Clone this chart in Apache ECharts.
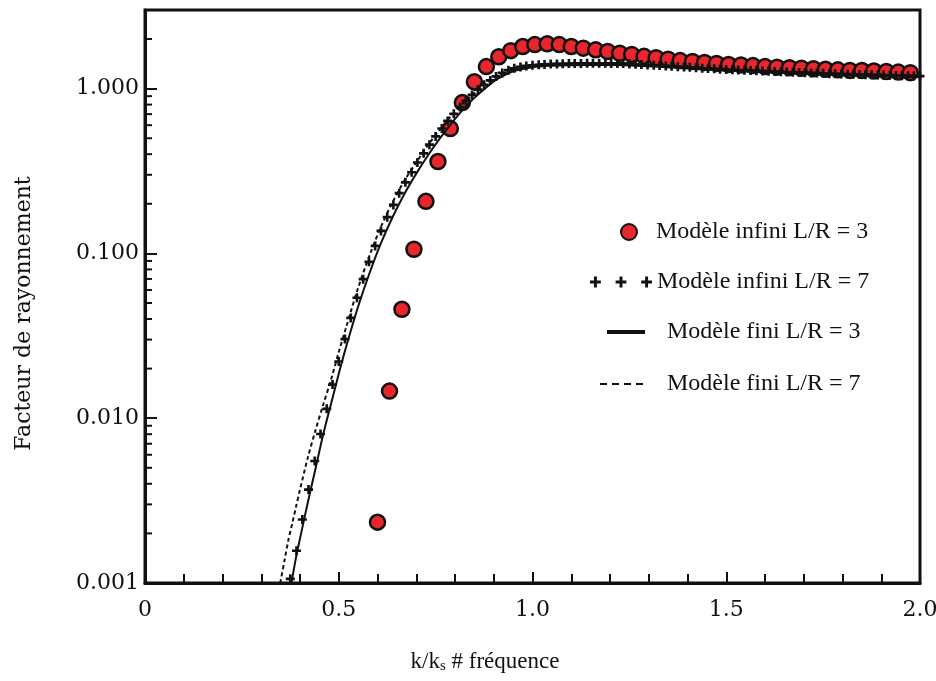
<!DOCTYPE html>
<html><head><meta charset="utf-8">
<script src="https://cdn.jsdelivr.net/npm/echarts@6/dist/echarts.min.js"></script>
<style>html,body{margin:0;padding:0;background:#fff}#c{width:936px;height:681px}</style>
</head><body><div id="c"></div>
<script>
const xTickLabels = ['0', '0.5', '1.0', '1.5', '2.0'];
const yTickLabels = ['0.001', '0.010', '0.100', '1.000'];
const yMinorTicks = [0.002,0.003,0.004,0.005,0.006,0.007,0.008,0.009,
  0.02,0.03,0.04,0.05,0.06,0.07,0.08,0.09,
  0.2,0.3,0.4,0.5,0.6,0.7,0.8,0.9, 2];
const seriesNames = ['Modèle infini L/R = 3', 'Modèle infini L/R = 7', 'Modèle fini L/R = 3', 'Modèle fini L/R = 7'];
const xTitle = 'k/k';
const xTitleSub = 's';
const xTitleRest = ' # fréquence';
const yTitle = 'Facteur de rayonnement';

// Modèle infini L/R = 3 (red circles)
const kInfini3 = [0.600,0.631,0.663,0.694,0.725,0.756,0.788,0.819,0.850,0.881,0.913,0.944,0.975,1.006,1.038,
  1.069,1.100,1.131,1.163,1.194,1.225,1.256,1.288,1.319,1.350,1.381,1.413,1.444,1.475,1.506,
  1.538,1.569,1.600,1.631,1.663,1.694,1.725,1.756,1.788,1.819,1.850,1.881,1.913,1.944,1.975];
const infini3 = [0.00234,0.0146,0.0458,0.106,0.207,0.361,0.572,0.823,1.10,1.36,1.56,1.70,1.80,1.85,1.87,
  1.85,1.80,1.76,1.72,1.68,1.64,1.61,1.57,1.54,1.51,1.48,1.46,1.44,1.42,1.40,
  1.39,1.38,1.36,1.35,1.34,1.33,1.32,1.31,1.30,1.29,1.29,1.28,1.27,1.26,1.25];

// Modèle infini L/R = 7 (crosses)
const kInfini7 = [0.375,0.391,0.406,0.422,0.438,0.453,0.469,0.484,
  0.500,0.516,0.531,0.547,0.563,0.578,0.594,0.609,
  0.625,0.641,0.656,0.672,0.688,0.703,0.719,0.734,
  0.750,0.766,0.781,0.797,0.813,0.828,0.844,0.859,
  0.875,0.891,0.906,0.922,0.938,0.953,0.969,0.984,
  1.000,1.016,1.031,1.047,1.063,1.078,1.094,1.109,
  1.125,1.141,1.156,1.172,1.188,1.203,1.219,1.234,
  1.250,1.266,1.281,1.297,1.313,1.328,1.344,1.359,
  1.375,1.391,1.406,1.422,1.438,1.453,1.469,1.484,
  1.500,1.516,1.531,1.547,1.563,1.578,1.594,1.609,
  1.625,1.641,1.656,1.672,1.688,1.703,1.719,1.734,
  1.750,1.766,1.781,1.797,1.813,1.828,1.844,1.859,
  1.875,1.891,1.906,1.922,1.938,1.953,1.969,1.984,
  2.000];
const infini7 = [0.00106,0.00157,0.00243,0.00369,0.00550,0.00802,0.0114,0.0160,
  0.0221,0.0302,0.0406,0.0538,0.0698,0.0889,0.111,0.137,
  0.166,0.197,0.232,0.270,0.311,0.356,0.405,0.457,
  0.513,0.573,0.637,0.703,0.773,0.843,0.916,0.986,
  1.054,1.122,1.186,1.245,1.294,1.330,1.355,1.374,
  1.387,1.396,1.403,1.409,1.413,1.416,1.419,1.422,
  1.422,1.426,1.426,1.426,1.426,1.422,1.422,1.419,
  1.413,1.406,1.400,1.393,1.387,1.380,1.374,1.368,
  1.358,1.352,1.346,1.340,1.330,1.324,1.318,1.312,
  1.306,1.300,1.297,1.291,1.288,1.282,1.279,1.274,
  1.271,1.265,1.262,1.256,1.253,1.250,1.245,1.242,
  1.239,1.233,1.230,1.227,1.225,1.222,1.219,1.216,
  1.213,1.211,1.208,1.205,1.202,1.199,1.197,1.194,
  1.191];

// Modèle fini L/R = 3 (solid line)
const kFini3 = [0.378,0.39,0.40,0.42,0.44,0.46,0.48,0.50,0.52,0.55,0.58,0.61,0.64,0.67,0.70,0.73,0.76,0.79,0.82,0.85,
  0.88,0.91,0.95,1.00,1.05,1.10,1.20,1.30,1.40,1.50,1.60,1.70,1.80,1.90,2.00];
const fini3 = [0.00100,0.00144,0.00186,0.00307,0.00494,0.00798,0.0122,0.0186,0.0276,0.0476,0.0766,0.117,0.168,0.231,0.305,0.393,0.495,0.612,0.743,0.879,
  1.014,1.146,1.276,1.349,1.377,1.387,1.393,1.368,1.324,1.282,1.259,1.230,1.211,1.191,1.175];

// Modèle fini L/R = 7 (dashed line)
const kFini7 = [0.349,0.36,0.37,0.38,0.39,0.40,0.42,0.44,0.46,0.48,0.50,0.52,0.55,0.58,0.61,0.64,0.67,0.70,0.73,0.76,
  0.79,0.82,0.85,0.88,0.91,0.95,1.00,1.05,1.10,1.20,1.30,1.40,1.50,1.60,1.70,1.80,1.90,2.00];
const fini7 = [0.00100,0.00137,0.00182,0.00230,0.00292,0.00369,0.00574,0.00845,0.0121,0.0171,0.0252,0.0362,0.0618,0.0979,0.147,0.207,0.278,0.356,0.454,0.560,
  0.682,0.811,0.942,1.074,1.199,1.321,1.387,1.409,1.419,1.426,1.393,1.349,1.306,1.279,1.250,1.227,1.208,1.191];

const zip = (ks, vs) => ks.map((k, i) => [k, vs[i]]);
const SERIF = 'Liberation Serif';
const TICKFONT = 'DejaVu Serif';
const plusPath = 'path://M3,0H5.5V3H8.5V5.5H5.5V8.5H3V5.5H0V3H3Z';
const plus3Path = 'path://M4,0H7V4H11V7H7V11H4V7H0V4H4Z M30,0H33V4H37V7H33V11H30V7H26V4H30Z M56,0H59V4H63V7H59V11H56V7H52V4H56Z';
const solidPath = 'path://M0,0H38V4H0Z';
const dashPath = 'path://M0,0H7V2H0Z M12,0H19V2H12Z M24,0H31V2H24Z M36,0H43V2H36Z';

const chart = echarts.init(document.getElementById('c'), null, {renderer: 'canvas'});
const legendText = {fontFamily: SERIF, fontSize: 24, color: '#111'};
const withPad = (p) => Object.assign({padding: [0, 0, 0, p]}, legendText);
chart.setOption({
  animation: false,
  backgroundColor: '#fff',
  grid: {left: 145, right: 16, top: 10, bottom: 98, show: true, borderColor: '#111', borderWidth: 3, outerBoundsMode: 'none', containLabel: false},
  legend: [
    {data: [{name: seriesNames[0], icon: 'circle'}], left: 620, top: 220, padding: 0, itemWidth: 16, itemHeight: 16, textStyle: withPad(14), selectedMode: false},
    {data: [{name: seriesNames[1], icon: plus3Path}], left: 590, top: 270, padding: 0, itemWidth: 62, itemHeight: 11, textStyle: legendText, itemStyle: {color: '#111'}, selectedMode: false},
    {data: [{name: seriesNames[2], icon: solidPath}], left: 607, top: 320, padding: 0, itemWidth: 38, itemHeight: 4, textStyle: withPad(17), itemStyle: {color: '#111'}, selectedMode: false},
    {data: [{name: seriesNames[3], icon: dashPath}], left: 600, top: 372, padding: 0, itemWidth: 43, itemHeight: 2, textStyle: withPad(19), itemStyle: {color: '#111'}, selectedMode: false}
  ],
  xAxis: {
    type: 'value', min: 0, max: 2, interval: 0.5,
    name: '{a|' + xTitle + '}{s|' + xTitleSub + '}{a|' + xTitleRest + '}',
    nameLocation: 'middle', nameGap: 66,
    nameTextStyle: {padding: [0, 95, 0, 0], rich: {a: {fontFamily: SERIF, fontSize: 23, color: '#111'}, s: {fontFamily: SERIF, fontSize: 15, color: '#111', padding: [10, 0, 0, 0]}}},
    axisLine: {lineStyle: {color: '#111', width: 3}},
    axisTick: {inside: true, length: 11, lineStyle: {color: '#111', width: 2}},
    minorTick: {show: true, splitNumber: 5, length: 9, lineStyle: {color: '#111', width: 2}},
    splitLine: {show: false},
    axisLabel: {fontFamily: TICKFONT, fontSize: 22, color: '#111', margin: 16,
      formatter: v => xTickLabels[Math.round(v / 0.5)]}
  },
  yAxis: {
    type: 'log', logBase: 10, min: 0.001, max: 3,
    name: yTitle, nameLocation: 'middle', nameGap: 110,
    nameTextStyle: {fontFamily: TICKFONT, fontSize: 22, color: '#111', padding: [0, 34, 0, 0]},
    axisLine: {lineStyle: {color: '#111', width: 3}},
    axisTick: {inside: true, length: 12, lineStyle: {color: '#111', width: 2}},
    splitLine: {show: false},
    axisLabel: {fontFamily: TICKFONT, fontSize: 22, color: '#111', margin: 6,
      formatter: v => {
        const l = Math.log10(v);
        if (Math.abs(l - Math.round(l)) > 1e-6) return '';
        return yTickLabels[Math.round(l) + 3] || '';
      }}
  },
  series: [
    {
      name: '_minorY', type: 'custom', silent: true, clip: false, z: 5,
      data: yMinorTicks.map(v => [0, v]), encode: {x: 0, y: 1},
      renderItem: (params, api) => {
        const p = api.coord([0, api.value(1)]);
        return {type: 'line', shape: {x1: p[0], y1: p[1], x2: p[0] + 7, y2: p[1]}, style: {stroke: '#111', lineWidth: 2}};
      }
    },
    {
      name: seriesNames[0], type: 'scatter', data: zip(kInfini3, infini3),
      symbol: 'circle', symbolSize: 15, z: 2,
      itemStyle: {color: '#e8262b', borderColor: '#111', borderWidth: 2.5, opacity: 1}
    },
    {
      name: seriesNames[2], type: 'line', data: zip(kFini3, fini3), smooth: 0.3,
      symbol: 'none', z: 3, lineStyle: {color: '#111', width: 2}, itemStyle: {color: '#111'}
    },
    {
      name: seriesNames[3], type: 'line', data: zip(kFini7, fini7), smooth: 0.3,
      symbol: 'none', z: 3, lineStyle: {color: '#111', width: 2, type: [4, 3]}, itemStyle: {color: '#111'}
    },
    {
      name: seriesNames[1], type: 'scatter', data: zip(kInfini7, infini7),
      symbol: plusPath, symbolSize: 9, z: 4,
      itemStyle: {color: '#111', opacity: 1}
    }
  ]
});
</script></body></html>
